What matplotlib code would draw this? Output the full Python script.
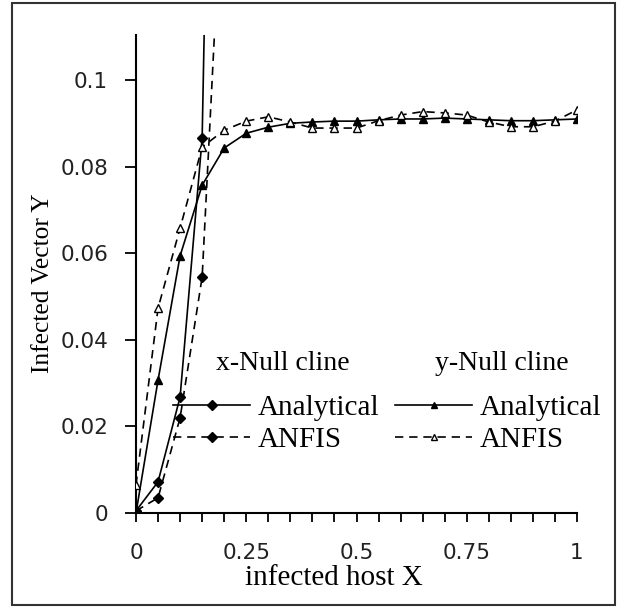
import numpy as np
import matplotlib.pyplot as plt
from matplotlib.lines import Line2D
from matplotlib.patches import Rectangle
from matplotlib.ticker import MultipleLocator, FuncFormatter

# x-Null cline (diamonds)
xnull_x = [0.0, 0.05, 0.1, 0.15, 0.2]
xnull_analytical = [0.0005, 0.0072, 0.0268, 0.0866, 0.35]
xnull_anfis = [0.0005, 0.0035, 0.022, 0.0545, 0.155]

# y-Null cline (triangles)
ynull_x = [0.0, 0.05, 0.1, 0.15, 0.2, 0.25, 0.3, 0.35, 0.4, 0.45, 0.5,
           0.55, 0.6, 0.65, 0.7, 0.75, 0.8, 0.85, 0.9, 0.95, 1.0]
ynull_analytical = [0.0, 0.0307, 0.0594, 0.0757, 0.0843, 0.0877, 0.0891, 0.0900,
                    0.0903, 0.0905, 0.0905, 0.0908, 0.0910, 0.0910, 0.0912, 0.0910,
                    0.0908, 0.0906, 0.0906, 0.0908, 0.0910]
ynull_anfis = [0.0065, 0.0473, 0.0658, 0.0845, 0.0884, 0.0905, 0.0915, 0.0903,
               0.0889, 0.0889, 0.0889, 0.0906, 0.0919, 0.0927, 0.0924, 0.0919,
               0.0903, 0.0892, 0.0892, 0.0905, 0.0931]

x_labels = {0.0: '0', 0.25: '0.25', 0.5: '0.5', 0.75: '0.75', 1.0: '1'}
y_labels = {0.0: '0', 0.02: '0.02', 0.04: '0.04', 0.06: '0.06', 0.08: '0.08', 0.1: '0.1'}
series_names = ['Analytical', 'ANFIS']
group_names = ['x-Null cline', 'y-Null cline']

W, H = 622, 607
fig = plt.figure(figsize=(W / 100, H / 100), dpi=100)
ax = fig.add_axes([136 / W, (H - 513) / H, (577 - 136) / W, (513 - 35) / H])

dash = (0, (5, 3.5))
ax.plot(xnull_x, xnull_analytical, color='black', lw=1.2, marker='D', ms=5, zorder=3)
ax.plot(xnull_x, xnull_anfis, color='black', lw=1.2, ls=dash, marker='D', ms=5, zorder=3)
ax.plot(ynull_x, ynull_analytical, color='black', lw=1.2, marker='^', ms=6, zorder=3)
ax.plot(ynull_x, ynull_anfis, color='black', lw=1.2, ls=dash, marker='^', ms=6,
        mfc='white', mec='black', zorder=4)

ax.set_xlim(0, 1.0)
ax.set_ylim(0, (513 - 35) / 4330)
ax.xaxis.set_major_locator(MultipleLocator(0.05))
ax.yaxis.set_major_locator(MultipleLocator(0.02))
ax.xaxis.set_major_formatter(FuncFormatter(lambda v, p: x_labels.get(round(v, 2), '')))
ax.yaxis.set_major_formatter(FuncFormatter(lambda v, p: y_labels.get(round(v, 2), '')))

for s in ['top', 'right']:
    ax.spines[s].set_visible(False)
for s in ['left', 'bottom']:
    ax.spines[s].set_linewidth(1.5)
ax.tick_params(axis='x', direction='out', length=6.5, width=1.3, pad=15,
               labelsize=15.5, labelcolor='#222222')
ax.tick_params(axis='y', direction='out', length=8, width=1.3, pad=12,
               labelsize=15.5, labelcolor='#222222')
for lab in ax.get_xticklabels() + ax.get_yticklabels():
    lab.set_family('DejaVu Sans')

serif = 'Liberation Serif'
fig.text(43 / W, 1 - 283 / H, 'Infected Vector Y', rotation=90, ha='center', va='center',
         family=serif, fontsize=18.4)
fig.text(334 / W, 1 - 585 / H, 'infected host X', ha='center', va='baseline',
         family=serif, fontsize=21)


def px(x, y):
    return ((x - 136) / (577 - 136), (513 - y) / (513 - 35))


# legend group headers
fs = 21
ax.text(*px(283, 363), group_names[0], transform=ax.transAxes, ha='center', va='center',
        family=serif, fontsize=20)
ax.text(*px(502, 363), group_names[1], transform=ax.transAxes, ha='center', va='center',
        family=serif, fontsize=20)

h_ana_d = Line2D([], [], color='black', lw=1.2, marker='D', ms=5)
h_anf_d = Line2D([], [], color='black', lw=1.2, ls=dash, marker='D', ms=5)
h_ana_t = Line2D([], [], color='black', lw=1.2, marker='^', ms=5)
h_anf_t = Line2D([], [], color='black', lw=1.2, ls=dash, marker='^', ms=5,
                 mfc='white', mec='black')

leg_kw = dict(loc='center left', frameon=False, prop={'family': serif, 'size': fs},
              handlelength=2.64, handletextpad=0.27, labelspacing=0.2, borderpad=0,
              borderaxespad=0)
leg1 = ax.legend([h_ana_d, h_anf_d], series_names, bbox_to_anchor=px(173, 424), **leg_kw)
ax.add_artist(leg1)
leg2 = ax.legend([h_ana_t, h_anf_t], series_names, bbox_to_anchor=px(395, 424), **leg_kw)

fig.patches.append(Rectangle((12 / W, 1 - 605 / H), (615 - 12) / W, (605 - 3) / H,
                             transform=fig.transFigure, fill=False, lw=1.5, ec='#333333'))

fig.savefig('out.png', dpi=100)
